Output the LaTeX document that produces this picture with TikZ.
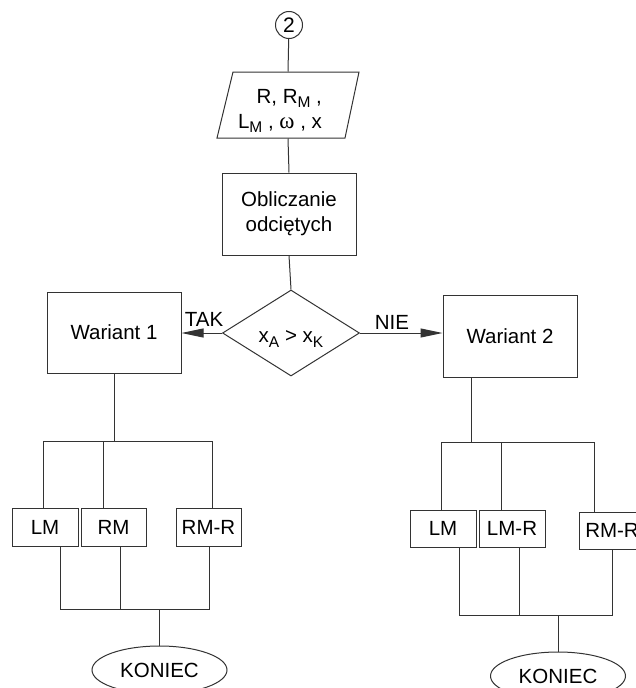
\documentclass[tikz,border=0pt]{standalone}
\usepackage{fontspec}
\setmainfont{Liberation Sans}
\newfontfamily\grkfont{Liberation Serif}
\usetikzlibrary{shapes.geometric,arrows.meta}
\newcommand\sbs[1]{\raisebox{-0.4ex}{\fontsize{15.5}{15.5}\selectfont #1}}
\begin{document}
\begin{tikzpicture}[x=1pt,y=-1pt,line width=1pt,
  every node/.style={font=\fontsize{20.5}{25}\selectfont},
  box/.style={draw=black!80,rectangle,inner sep=0pt},
  smallbox/.style={box,minimum width=66pt,minimum height=37pt},
  bigbox/.style={box,minimum width=134pt},
  endell/.style={draw=black!80,ellipse,inner sep=0pt,minimum width=135pt,minimum height=48pt},
  conn/.style={draw=black!80},
  arr/.style={draw=black!80,-{Triangle[length=22pt,width=9pt]}}]
\useasboundingbox (0,0) rectangle (635,688);

% top
\node[circle,draw=black!80,minimum size=27pt,inner sep=0pt,font=\fontsize{21}{21}\selectfont] (c2) at (289,25) {2};
\node[minimum width=128pt,minimum height=66pt,inner sep=0pt] (inp) at (288,105) {};
\draw[black!80] (233,72) -- (359,72) -- (345,138) -- (217,138) -- cycle;
\node[align=right,inner sep=0pt] (inptxt) at (280,111) {R, R\sbs{M} ,\\L\sbs{M} , {\grkfont\fontsize{23}{23}\selectfont ω} , x};
\node[bigbox,minimum height=82pt,align=center] (obl) at (289,214) {Obliczanie\\odcięty\-ch};

\node[diamond,draw=black!80,minimum width=137pt,minimum height=86pt,inner sep=0pt] (dia) at (291,333) {};
\node[inner sep=0pt] (diatxt) at (291,339) {x\sbs{A} > x\sbs{K}};

\node[bigbox,minimum height=81pt] (w1) at (114,332.5) {Wariant 1};
\node[bigbox,minimum height=82pt] (w2) at (510,336) {Wariant 2};

\draw[conn] (c2) -- (inp.north);
\draw[conn] (inp.south) -- (obl.north);
\draw[conn] (obl.south) -- (dia.north);
\draw[arr] (dia.west) -- (dia.west -| w1.east);
\draw[arr] (dia.east) -- (dia.east -| w2.west);
\node (tak) at (204,319) {TAK};
\node (nie) at (392,322) {NIE};

% left tree
\node[smallbox,minimum width=66pt,minimum height=38pt] (lm1) at (45,527) {LM};
\node[smallbox,minimum width=65pt,minimum height=38pt] (rm1) at (113.5,527) {RM};
\node[smallbox,minimum width=65pt,minimum height=38pt] (rmr1) at (208.5,527) {RM-R};
\node[endell] (end1) at (159.5,670) {KONIEC};

\coordinate (b1l) at (43,441);
\coordinate (b1m) at (103,441);
\coordinate (b1r) at (212,441);
\draw[conn] (w1.south) -- (w1.south |- b1l);
\draw[conn] (b1l) -- (b1r);
\draw[conn] (b1l) -- (b1l |- lm1.north);
\draw[conn] (b1m) -- (b1m |- rm1.north);
\draw[conn] (b1r) -- (b1r |- rmr1.north);
\coordinate (d1l) at (60,609);
\coordinate (d1m) at (120,609);
\coordinate (d1r) at (209,609);
\draw[conn] (d1l |- lm1.south) -- (d1l) -- (d1r) -- (d1r |- rmr1.south);
\draw[conn] (d1m |- rm1.south) -- (d1m);
\draw[conn] (end1.north) -- (end1.north |- d1l);

% right tree
\node[smallbox] (lm2) at (443,528.5) {LM};
\node[smallbox] (lmr2) at (512,528.5) {LM-R};
\node[smallbox] (rmr2) at (612,530.5) {RM-R};
\node[endell] (end2) at (558,676) {KONIEC};

\coordinate (j2) at (471,442);
\coordinate (b2l) at (441,442);
\coordinate (b2m) at (501,442);
\coordinate (b2r) at (594,442);
\draw[conn] (j2 |- w2.south) -- (j2);
\draw[conn] (b2l) -- (b2r);
\draw[conn] (b2l) -- (b2l |- lm2.north);
\draw[conn] (b2m) -- (b2m |- lmr2.north);
\draw[conn] (b2r) -- (b2r |- rmr2.north);
\coordinate (d2l) at (459,615);
\coordinate (d2m) at (519,615);
\coordinate (d2r) at (612,615);
\draw[conn] (d2l |- lm2.south) -- (d2l) -- (d2r) -- (d2r |- rmr2.south);
\draw[conn] (d2m |- lmr2.south) -- (d2m);
\draw[conn] (end2.north) -- (end2.north |- d2l);
\end{tikzpicture}
\end{document}
